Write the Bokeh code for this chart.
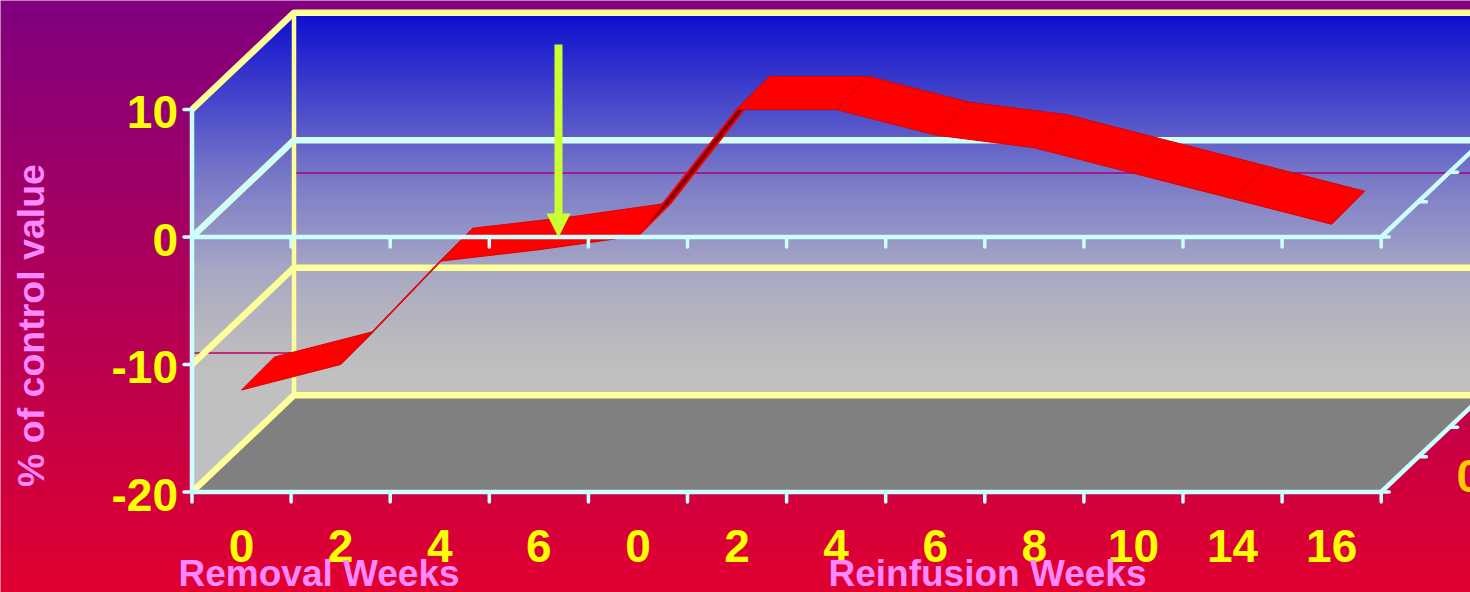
import numpy as np
from bokeh.plotting import figure
from bokeh.embed import file_html
from bokeh.resources import INLINE
from bokeh.core.properties import value

# ---- chart data
weeks = ["0", "2", "4", "6", "0", "2", "4", "6", "8", "10", "14", "16"]
percent = [-12, -10, -1.9, -1, 0.1, 10, 10, 8, 7, 5, 3, 1]
y_ticks = [10, 0, -10, -20]
y_tick_labels = ["10", "0", "-10", "-20"]
group_labels = ["Removal Weeks", "Reinfusion Weeks"]
y_title = "% of control value"
series_label = "0"

# ---- page geometry: the data scales map onto the picture
W, H = 1470, 592
PX_LEFT, PX_PER_CAT = 191.5, 99.1
PX_ZERO, PX_PER_PCT = 236.5, 12.75
def X(px): return (px - PX_LEFT) / PX_PER_CAT - 0.5
def Y(py): return (PX_ZERO - py) / PX_PER_PCT
def DX(px): return px / PX_PER_CAT
def DY(py): return py / PX_PER_PCT

x0, x1 = X(0), X(W)
y0, y1 = Y(H), Y(0)
N = len(weeks)
left, right = -0.5, N - 0.5
low, high = -20, 10
wall_dx, wall_dy = DX(102), DY(96.8)      # full depth of the box
rib_dx, rib_dy = DX(33), DY(33)           # depth of the red ribbon
depth_ticks = [0, 0.365, 0.67]

p = figure(width=W, height=H, x_range=(x0, x1), y_range=(y0, y1),
           output_backend="svg", toolbar_location=None, min_border=0,
           outline_line_color=None, background_fill_color=None, border_fill_color=None)
p.axis.visible = False
p.grid.visible = False

# ---- painted background: page gradient, walls gradient
def lerp(a, b, t):
    return np.array(a)[None, :] * (1 - t)[:, None] + np.array(b)[None, :] * t[:, None]

t = np.linspace(0, 1, H)
img = np.zeros((H, W, 4), dtype=np.uint8)
img[..., :3] = lerp((128, 0, 128), (226, 0, 48), t)[:, None, :].astype(np.uint8)
img[..., 3] = 255
rows = np.arange(H)
stop_y = [12, 172, 240, 270, 330, 370]
wall_r = np.interp(rows, stop_y, [12, 118, 152, 168, 184, 192])
wall_b = np.interp(rows, stop_y, [208, 200, 199, 196, 191, 192])
yy, xx = np.mgrid[0:H, 0:W]
back = (xx >= 293) & (yy >= 12) & (yy <= 395)
side_top = 108 + (xx - 191) * (12 - 108) / 102
side_bot = 491 + (xx - 191) * (395 - 491) / 102
side = (xx >= 191) & (xx < 293) & (yy >= side_top) & (yy <= side_bot)
mask = back | side
img[mask, 0] = wall_r[yy[mask]]
img[mask, 1] = wall_r[yy[mask]]
img[mask, 2] = wall_b[yy[mask]]
view = np.flipud(img).view(dtype=np.uint32).reshape(H, W)
pad_x, pad_y = DX(2), DY(2)
p.image_rgba(image=[view], x=x0 - pad_x, y=y0 - pad_y, dw=x1 - x0 + 2 * pad_x, dh=y1 - y0 + 2 * pad_y)

# floor
far = right + wall_dx
p.patch([left, left + wall_dx, far, right], [low, low + wall_dy, low + wall_dy, low],
        fill_color="#808080", line_color=None)

# faint horizontal rules on the walls
RULE = "#a8007c"
p.line([left + wall_dx, x1], [Y(172.5)] * 2, line_color=RULE, line_width=1.4)
p.line([X(194), X(291)], [Y(352.5)] * 2, line_color="#c0005c", line_width=1.4)

# ---- box frame
YEL, CYA = "#ffff99", "#ccffff"
for v, c in ((high, YEL), (-10, YEL), (low, YEL)):
    p.line([left, left + wall_dx, far], [v, v + wall_dy, v + wall_dy], line_color=c, line_width=6.5)
p.line([left + wall_dx] * 2, [low + wall_dy, high + wall_dy], line_color=YEL, line_width=4.5)
p.line([left, left + wall_dx, far], [0, wall_dy, wall_dy], line_color=YEL, line_width=6.5)
p.line([left, left + wall_dx, far], [0, wall_dy, wall_dy], line_color=CYA, line_width=5.5)
p.line([left, left], [low, high], line_color=CYA, line_width=4.5)

# ---- ribbon
xs = np.arange(N, dtype=float)
ys = np.array(percent, dtype=float)
for i in range(N - 1):
    dark = i == 4
    p.patch([xs[i], xs[i + 1], xs[i + 1] + rib_dx, xs[i] + rib_dx],
            [ys[i], ys[i + 1], ys[i + 1] + rib_dy, ys[i] + rib_dy],
            fill_color="#800000" if dark else "#ff0000",
            line_color="#f00000" if dark else "#dc0000", line_width=2 if dark else 1)

# ---- front axes, over the ribbon
edges = np.arange(N + 1) - 0.5
for v in (0, low):
    p.line([left, right], [v, v], line_color=CYA, line_width=4.5)
    p.line([right, far], [v, v + wall_dy], line_color=CYA, line_width=4.5)
    p.segment(edges, [v] * (N + 1), edges, [v - DY(10)] * (N + 1),
              line_color=CYA, line_width=3.5, line_cap="round")
    for d in depth_ticks:
        tx, ty = right + d * wall_dx, v + d * wall_dy
        p.segment([tx], [ty], [tx + DX(8)], [ty], line_color=CYA, line_width=3.5, line_cap="round")
p.segment([left] * 4, y_ticks, [left - DX(8)] * 4, y_ticks, line_color=CYA, line_width=3.5, line_cap="round")

# ---- arrow
LIME = "#ccff33"
ax = X(558)
p.line([ax, ax], [Y(44), Y(216)], line_color=LIME, line_width=8)
p.patch([X(546), X(570), ax], [Y(213), Y(213), Y(237)], fill_color=LIME, line_color=None)

# ---- texts
SANS = value("Liberation Sans")
DIGIT_SIZE = 46
PINK = "#ff88ff"
FIX = 0.375  # the browser's alphabetic baseline sits this many em below the anchor
p.text(x=[left - DX(14)] * 4, y=y_ticks, text=y_tick_labels, y_offset=20 - FIX * DIGIT_SIZE,
       text_font=SANS, text_font_style="bold", text_font_size=f"{DIGIT_SIZE}px",
       text_color="#ffff00", text_align="right", text_baseline="alphabetic")
p.text(x=list(xs), y=[Y(563)] * N, text=weeks, y_offset=-FIX * DIGIT_SIZE,
       text_font=SANS, text_font_style="bold", text_font_size=f"{DIGIT_SIZE}px",
       text_color="#ffff00", text_align="center", text_baseline="alphabetic")
p.text(x=[X(1456)], y=[Y(493)], text=[series_label], y_offset=-FIX * DIGIT_SIZE,
       text_font=SANS, text_font_style="bold", text_font_size=f"{DIGIT_SIZE}px",
       text_color="#ffcc00", text_align="left", text_baseline="alphabetic")
p.text(x=[X(178), X(828)], y=[Y(587)] * 2, text=group_labels, y_offset=-FIX * 37,
       text_font=SANS, text_font_style="bold", text_font_size="37px",
       text_color=PINK, text_align="left", text_baseline="alphabetic")
p.text(x=[X(45)], y=[Y(325)], text=[y_title], angle=np.pi / 2, x_offset=-FIX * 37.5,
       text_font=SANS, text_font_style="bold", text_font_size="37.5px",
       text_color=PINK, text_align="center", text_baseline="alphabetic")

html = file_html(p, INLINE)
html = html.replace("<head>", "<head><style>html,body{margin:0;padding:0;overflow:hidden}</style>", 1)
open("out.html", "w").write(html)
